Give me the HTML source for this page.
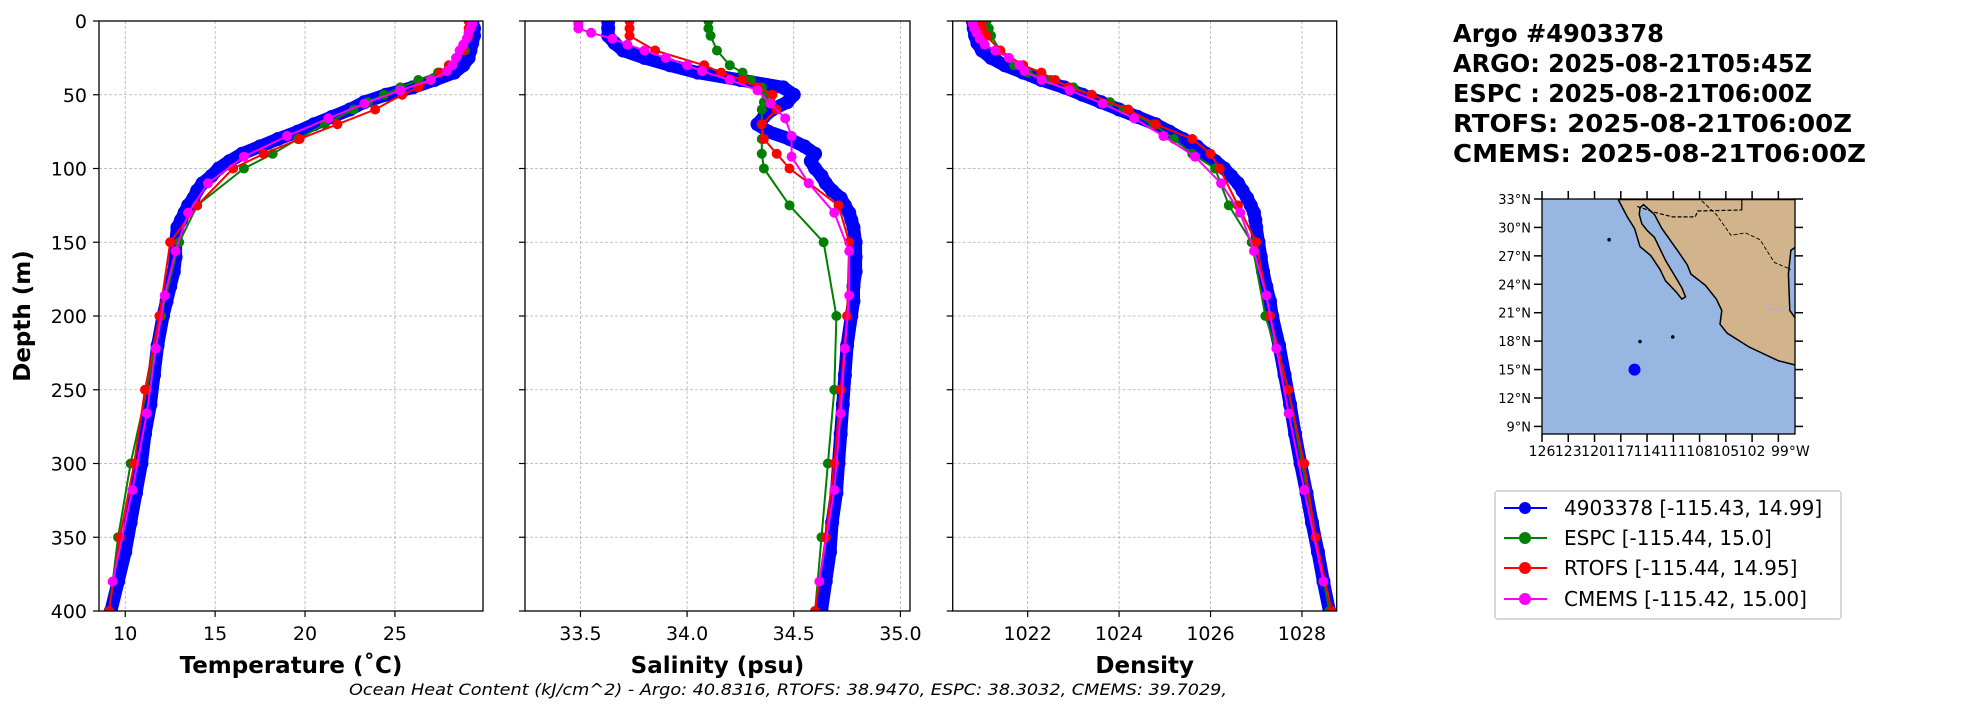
<!DOCTYPE html>
<html><head><meta charset="utf-8"><style>
html,body{margin:0;padding:0;background:#fff;}
svg{display:block;font-family:"DejaVu Sans","Liberation Sans",sans-serif;}
</style></head><body>
<svg id="fig" width="1967" height="712" viewBox="0 0 1967 712" xmlns="http://www.w3.org/2000/svg">
<g id="panels"></g>
<g id="side">
 <g font-weight="bold" font-size="25" fill="#000">
  <text x="1453" y="42" textLength="211" lengthAdjust="spacingAndGlyphs">Argo #4903378</text>
  <text x="1453" y="72" textLength="359" lengthAdjust="spacingAndGlyphs">ARGO: 2025-08-21T05:45Z</text>
  <text x="1453" y="102" textLength="359" lengthAdjust="spacingAndGlyphs">ESPC : 2025-08-21T06:00Z</text>
  <text x="1453" y="132" textLength="399" lengthAdjust="spacingAndGlyphs">RTOFS: 2025-08-21T06:00Z</text>
  <text x="1453" y="162" textLength="413" lengthAdjust="spacingAndGlyphs">CMEMS: 2025-08-21T06:00Z</text>
 </g>
 <g id="map"></g>
 <g>
  <rect x="1495" y="491" width="346" height="128" rx="3" fill="#fff" stroke="#ccc" stroke-width="1.5"/>
  <g><line x1="1504" y1="508" x2="1547" y2="508" stroke="#0000ff" stroke-width="2"/><circle cx="1525" cy="508" r="6" fill="#0000ff"/><text x="1564" y="515" font-size="20">4903378 [-115.43, 14.99]</text></g>
  <g><line x1="1504" y1="538" x2="1547" y2="538" stroke="#008000" stroke-width="2"/><circle cx="1525" cy="538" r="6" fill="#008000"/><text x="1564" y="545" font-size="20">ESPC [-115.44, 15.0]</text></g>
  <g><line x1="1504" y1="568" x2="1547" y2="568" stroke="#ff0000" stroke-width="2"/><circle cx="1525" cy="568" r="6" fill="#ff0000"/><text x="1564" y="575" font-size="20">RTOFS [-115.44, 14.95]</text></g>
  <g><line x1="1504" y1="599" x2="1547" y2="599" stroke="#ff00ff" stroke-width="2"/><circle cx="1525" cy="599" r="6" fill="#ff00ff"/><text x="1564" y="606" font-size="20">CMEMS [-115.42, 15.00]</text></g>
 </g>
</g>
<text x="788" y="695" font-size="16" font-style="italic" text-anchor="middle" textLength="878" lengthAdjust="spacingAndGlyphs">Ocean Heat Content (kJ/cm^2) - Argo: 40.8316,  RTOFS: 38.9470,  ESPC: 38.3032,  CMEMS: 39.7029,</text>
</svg>
<script>
// ---------- data ----------
const argoDepth=[0,5,10,15,20,25,30,35,40,45,50,55,60,65,70,75,80,85,90,95,100,105,110,115,120,125,130,135,140,150,160,170,180,190,200,220,240,260,280,300,320,340,360,380,400];
const argoTemp=[29.3,29.4,29.4,29.3,29.2,29.1,28.8,28.3,27.2,26.0,24.5,23.3,22.5,21.5,20.5,19.6,18.5,17.5,16.5,15.8,15.2,14.8,14.3,14.0,13.8,13.5,13.3,13.1,12.9,12.8,12.8,12.7,12.5,12.3,12.1,11.8,11.6,11.4,11.1,10.9,10.6,10.3,10.0,9.6,9.2];
const argoSalt=[33.63,33.63,33.63,33.66,33.70,33.80,33.92,34.05,34.25,34.45,34.50,34.47,34.40,34.36,34.33,34.38,34.48,34.55,34.60,34.58,34.60,34.63,34.65,34.68,34.72,34.74,34.76,34.77,34.78,34.79,34.79,34.79,34.78,34.78,34.77,34.75,34.74,34.73,34.72,34.71,34.70,34.68,34.67,34.65,34.63];
const argoDens=[1020.8,1020.82,1020.85,1020.9,1021.0,1021.2,1021.5,1021.9,1022.3,1022.8,1023.2,1023.6,1024.0,1024.4,1024.8,1025.1,1025.4,1025.7,1025.9,1026.1,1026.3,1026.45,1026.6,1026.7,1026.8,1026.88,1026.95,1026.98,1027.0,1027.05,1027.1,1027.15,1027.22,1027.3,1027.35,1027.5,1027.62,1027.74,1027.85,1027.97,1028.1,1028.22,1028.35,1028.47,1028.6];

const espcDepth=[0,5,10,20,30,35,40,45,50,55,60,70,80,90,100,125,150,200,250,300,350,400];
const espcTemp=[29.2,29.2,29.1,28.9,28.2,27.4,26.3,25.3,24.4,23.5,22.7,21.1,19.6,18.2,16.6,14.0,13.0,12.0,11.2,10.3,9.6,9.1];
const espcSalt=[34.10,34.10,34.11,34.14,34.20,34.26,34.30,34.35,34.37,34.36,34.35,34.35,34.35,34.35,34.36,34.48,34.64,34.70,34.69,34.66,34.63,34.60];
const espcDens=[1021.1,1021.15,1021.2,1021.4,1021.7,1022.0,1022.5,1023.0,1023.4,1023.8,1024.1,1024.75,1025.2,1025.6,1026.1,1026.4,1026.9,1027.2,1027.7,1028.0,1028.3,1028.6];

const rtofsDepth=[0,5,10,20,30,35,40,45,50,60,70,80,90,100,125,150,200,250,300,350,400];
const rtofsTemp=[29.1,29.1,29.1,28.8,28.0,27.5,27.0,26.3,25.4,23.9,21.8,19.7,17.7,16.0,14.0,12.5,11.9,11.1,10.5,9.7,9.1];
const rtofsSalt=[33.73,33.73,33.73,33.85,34.08,34.16,34.26,34.33,34.40,34.42,34.35,34.36,34.42,34.48,34.71,34.76,34.75,34.72,34.69,34.65,34.60];
const rtofsDens=[1021.0,1021.0,1021.1,1021.4,1021.9,1022.3,1022.6,1022.9,1023.4,1024.2,1024.8,1025.6,1026.0,1026.2,1026.6,1027.0,1027.3,1027.7,1028.05,1028.3,1028.65];

const cmemsDepth=[0,2,5,8,12,16,20,25,30,34,40,47,56,66,78,92,110,130,156,186,222,266,318,380];
const cmemsTemp=[29.3,29.3,29.2,29.1,29.0,28.8,28.6,28.4,28.2,27.9,27.0,25.3,23.3,21.3,19.0,16.6,14.6,13.5,12.8,12.2,11.7,11.2,10.4,9.3];
const cmemsSalt=[33.49,33.49,33.49,33.55,33.65,33.72,33.80,33.90,34.00,34.07,34.20,34.33,34.39,34.46,34.49,34.49,34.57,34.69,34.76,34.76,34.74,34.72,34.69,34.62];
const cmemsDens=[1020.79,1020.8,1020.83,1020.88,1020.95,1021.06,1021.29,1021.59,1021.82,1021.93,1022.31,1022.92,1023.64,1024.33,1024.97,1025.66,1026.23,1026.65,1026.95,1027.22,1027.44,1027.71,1028.05,1028.47];

const depthTicks=[0,50,100,150,200,250,300,350,400];
const tempTicks=[10,15,20,25];
const saltTicks=[33.5,34.0,34.5,35.0];
const densTicks=[1022,1024,1026,1028];
const saltTickLabels=["33.5","34.0","34.5","35.0"];

// ---------- drawing ----------
const NS="http://www.w3.org/2000/svg";
function mk(tag,attrs,parent){const e=document.createElementNS(NS,tag);for(const k in attrs)e.setAttribute(k,attrs[k]);if(parent)parent.appendChild(e);return e;}
const Y0=21,Y1=611;
function yScale(d){return Y0+d/400*(Y1-Y0);}
const panelsG=document.getElementById('panels');

function drawPanel(key,x0,x1,vmin,vmax,ticks,labels,title,showY,series){
  const xs=v=>x0+(v-vmin)/(vmax-vmin)*(x1-x0);
  const g=mk('g',{},panelsG);
  
  
  const cid='clip-'+key;
  const cp=mk('clipPath',{id:cid},g);mk('rect',{x:x0,y:Y0,width:x1-x0,height:Y1-Y0},cp);
  depthTicks.forEach(d=>{const l=mk('line',{x1:x0,x2:x1,y1:yScale(d),y2:yScale(d),stroke:'#b0b0b0','stroke-width':0.8,'stroke-dasharray':'3,2'},g);
    
    });
  ticks.forEach(v=>{const l=mk('line',{x1:xs(v),x2:xs(v),y1:Y0,y2:Y1,stroke:'#b0b0b0','stroke-width':0.8,'stroke-dasharray':'3,2'},g);
    
    });
  const sg=mk('g',{'clip-path':'url(#'+cid+')'},g);
  series.forEach(s=>{
    const ser=mk('g',{},sg);
    
    
    const pts=s.vals.map((v,i)=>xs(v).toFixed(1)+','+yScale(s.depth[i]).toFixed(1)).join(' ');
    mk('polyline',{points:pts,fill:'none',stroke:s.color,'stroke-width':s.w,'stroke-linejoin':'round','stroke-linecap':'round'},ser);
    s.vals.forEach((v,i)=>{const c=mk('circle',{cx:xs(v),cy:yScale(s.depth[i]),r:s.r,fill:s.color},ser);
      
      });
  });
  mk('rect',{x:x0,y:Y0,width:x1-x0,height:Y1-Y0,fill:'none',stroke:'#000','stroke-width':1.3},g);
  depthTicks.forEach(d=>{mk('line',{x1:x0-6,x2:x0,y1:yScale(d),y2:yScale(d),stroke:'#000','stroke-width':1.2},g);
    if(showY){const t=mk('text',{x:x0-12,y:yScale(d)+7,'font-size':19,'text-anchor':'end'},g);t.textContent=d;
      
      }});
  ticks.forEach((v,i)=>{mk('line',{x1:xs(v),x2:xs(v),y1:Y1,y2:Y1+6,stroke:'#000','stroke-width':1.2},g);
    const t=mk('text',{x:xs(v),y:640,'font-size':19,'text-anchor':'middle'},g);t.textContent=labels[i];
    
    });
  const tt=mk('text',{x:(x0+x1)/2,y:673,'font-size':23,'font-weight':'bold','text-anchor':'middle'},g);tt.textContent=title;
  
  
}
function ser(name,color,depth,vals,r,w){return {name,color,depth,vals,r,w};}
drawPanel('temperature',99,483,8.54,29.9,tempTicks,tempTicks.map(String),'Temperature (˚C)',true,[
  ser('argo','#0000ff',argoDepth,argoTemp,7,13),ser('espc','#008000',espcDepth,espcTemp,5,2),
  ser('rtofs','#ff0000',rtofsDepth,rtofsTemp,5,2),ser('cmems','#ff00ff',cmemsDepth,cmemsTemp,5,2)]);
drawPanel('salinity',525,910,33.24,35.045,saltTicks,saltTickLabels,'Salinity (psu)',false,[
  ser('argo','#0000ff',argoDepth,argoSalt,7,13),ser('espc','#008000',espcDepth,espcSalt,5,2),
  ser('rtofs','#ff0000',rtofsDepth,rtofsSalt,5,2),ser('cmems','#ff00ff',cmemsDepth,cmemsSalt,5,2)]);
drawPanel('density',952.7,1336.7,1020.36,1028.76,densTicks,densTicks.map(String),'Density',false,[
  ser('argo','#0000ff',argoDepth,argoDens,7,13),ser('espc','#008000',espcDepth,espcDens,5,2),
  ser('rtofs','#ff0000',rtofsDepth,rtofsDens,5,2),ser('cmems','#ff00ff',cmemsDepth,cmemsDens,5,2)]);
const yl=mk('text',{x:0,y:0,'font-size':23,'font-weight':'bold','text-anchor':'middle',transform:'translate(30,316) rotate(-90)'},panelsG);
yl.textContent='Depth (m)';



// ---------- map ----------
const mapLatTicks=[33,30,27,24,21,18,15,12,9];
const mapLonTicks=[-126,-123,-120,-117,-114,-111,-108,-105,-102,-99];
const floatLon=[-115.43], floatLat=[14.99];
const MX0=1542,MX1=1795,MY0=199,MY1=434,LON0=-126,LON1=-97.1,LAT0=8.2,LAT1=33;
const mx=lo=>MX0+(lo-LON0)/(LON1-LON0)*(MX1-MX0);
const my=la=>MY1-(la-LAT0)/(LAT1-LAT0)*(MY1-MY0);
const mapG=document.getElementById('map');
const mcp=mk('clipPath',{id:'mapclip'},mapG);mk('rect',{x:MX0,y:MY0,width:MX1-MX0,height:MY1-MY0},mcp);
const ocean=mk('rect',{x:MX0,y:MY0,width:MX1-MX0,height:MY1-MY0,fill:'#97b6e1'},mapG);


const landZ=[[600,437],[625,475],[645,500],[660,540],[690,560],[715,590],[730,615],[760,640],[775,655],[785,650],[775,630],[760,610],[745,590],[730,570],[715,545],[700,520],[680,505],[665,490],[658,470],[660,455],[670,448],[700,470],[720,500],[760,545],[790,580],[800,600],[840,625],[870,655],[885,680],[880,710],[900,730],[960,760],[1040,790],[1090,800],[1090,700],[1072,680],[1068,600],[1075,548],[1090,540],[1090,437]];
const zx=z=>1400+z/2.75, zy=z=>z/2.19;
const mg=mk('g',{'clip-path':'url(#mapclip)'},mapG);
const land=mk('polygon',{points:landZ.map(p=>zx(p[0]).toFixed(1)+','+zy(p[1]).toFixed(1)).join(' '),fill:'#d2b48c',stroke:'#000','stroke-width':1.5},mg);


const borderZ=[[652,452],[700,465],[750,475],[812,475],[818,462],[940,460]];
mk('polyline',{points:borderZ.map(p=>zx(p[0]).toFixed(1)+','+zy(p[1]).toFixed(1)).join(' '),fill:'none',stroke:'#000','stroke-width':1.2,'stroke-dasharray':'4,2'},mg);
mk('polyline',{points:[[940,437],[940,460]].map(p=>zx(p[0]).toFixed(1)+','+zy(p[1]).toFixed(1)).join(' '),fill:'none',stroke:'#000','stroke-width':1.2},mg);
mk('polyline',{points:[[830,440],[870,470],[910,515],[950,510],[990,525],[1030,575],[1075,590]].map(p=>zx(p[0]).toFixed(1)+','+zy(p[1]).toFixed(1)).join(' '),fill:'none',stroke:'#000','stroke-width':0.9,'stroke-dasharray':'4,2'},mg);
mk('polyline',{points:[[1010,675],[1040,680],[1070,670]].map(p=>zx(p[0]).toFixed(1)+','+zy(p[1]).toFixed(1)).join(' '),fill:'none',stroke:'#97b6e1','stroke-width':1},mg);
[[575,525],[660,748],[750,738]].forEach(p=>mk('circle',{cx:zx(p[0]),cy:zy(p[1]),r:1.8,fill:'#000'},mg));
mk('rect',{x:MX0,y:MY0,width:MX1-MX0,height:MY1-MY0,fill:'none',stroke:'#000','stroke-width':1.3},mapG);
mapLatTicks.forEach(la=>{
  mk('line',{x1:MX0-8,x2:MX0,y1:my(la),y2:my(la),stroke:'#000','stroke-width':1.5},mapG);
  mk('line',{x1:MX1,x2:MX1+8,y1:my(la),y2:my(la),stroke:'#000','stroke-width':1.5},mapG);
  const t=mk('text',{x:MX0-11,y:my(la)+5,'font-size':13,'text-anchor':'end'},mapG);t.textContent=la+'°N';
  
  });
mapLonTicks.forEach((lo,i)=>{
  mk('line',{x1:mx(lo),x2:mx(lo),y1:MY1,y2:MY1+8,stroke:'#000','stroke-width':1.5},mapG);
  mk('line',{x1:mx(lo),x2:mx(lo),y1:MY0-8,y2:MY0,stroke:'#000','stroke-width':1.5},mapG);
  const last=i==mapLonTicks.length-1;
  const t=mk('text',{x:mx(lo)+(last?12:0),y:MY1+22,'font-size':14,'text-anchor':'middle'},mapG);
  t.textContent=(-lo)+(last?'°W':'');
  
  });
floatLon.forEach((lo,i)=>{const c=mk('circle',{cx:mx(lo),cy:my(floatLat[i]),r:6,fill:'#0000ff'},mapG);
  
  });
</script>
</body></html>
